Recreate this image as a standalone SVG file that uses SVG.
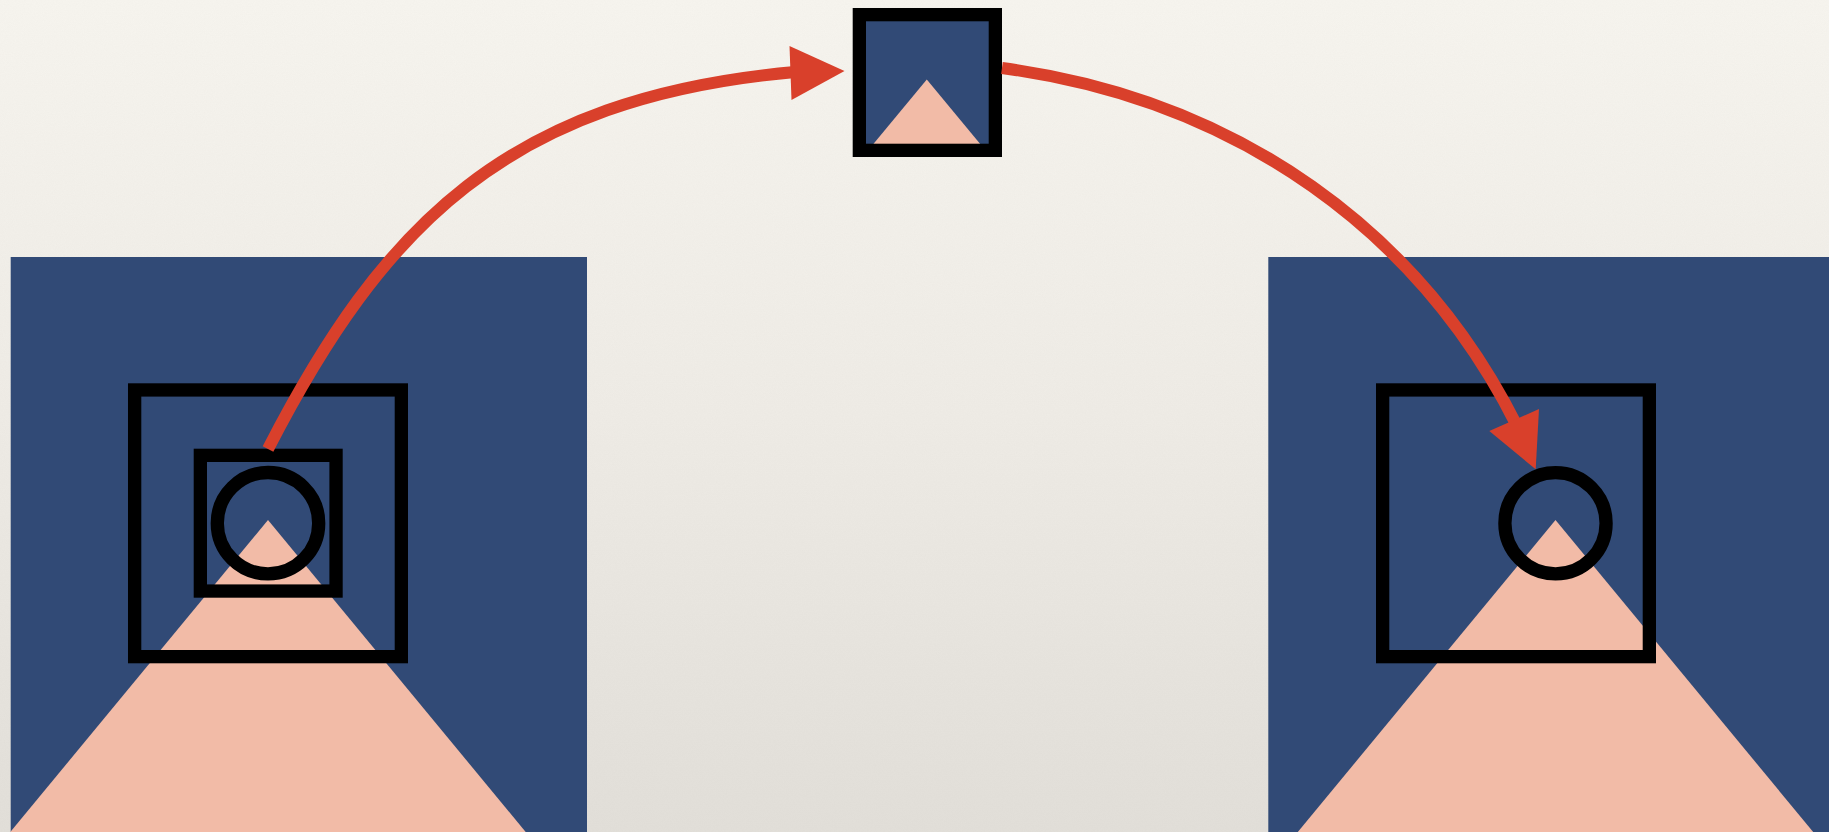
<svg xmlns="http://www.w3.org/2000/svg" width="1829" height="832" viewBox="0 0 1829 832">
  <style>
    .panel { fill: #314a76; }
    .cone { fill: #f2bba7; }
    .frame { fill: none; stroke: #000000; stroke-width: 13.3; }
    .link { fill: none; stroke: #d9402b; stroke-width: 12; stroke-linecap: butt; }
    .head { fill: #d9402b; stroke: none; }
  </style>
  <defs>
    <linearGradient id="paper" x1="0" y1="0" x2="0" y2="1">
      <stop offset="0" stop-color="#f7f5ef"/>
      <stop offset="0.5" stop-color="#efece6"/>
      <stop offset="1" stop-color="#e2dfd9"/>
    </linearGradient>
    <filter id="grain" x="0" y="0" width="100%" height="100%">
      <feTurbulence type="fractalNoise" baseFrequency="0.9" numOctaves="2" seed="3" result="n"/>
      <feColorMatrix in="n" type="matrix" values="0 0 0 0 0.45  0 0 0 0 0.43  0 0 0 0 0.40  0 0 0 0.06 0"/>
    </filter>
    <filter id="soft" x="-10%" y="-10%" width="120%" height="120%">
      <feGaussianBlur stdDeviation="0.7"/>
    </filter>
  </defs>

  <rect x="0" y="0" width="1829" height="832" fill="url(#paper)"/>
  <rect x="0" y="0" width="1829" height="832" filter="url(#grain)"/>

  <g id="left-view">
    <rect class="panel" x="10.7" y="257" width="576.3" height="575"/>
    <polygon class="cone" points="268,520 10.3,832 525.7,832"/>
    <rect class="frame" x="134.65" y="389.95" width="266.7" height="266.7"/>
    <rect class="frame" x="200.35" y="455.35" width="135.7" height="135.7"/>
    <circle class="frame" cx="268" cy="523.2" r="50.7"/>
  </g>

  <g id="crop">
    <rect class="panel" x="859.35" y="14.65" width="136" height="135.7"/>
    <polygon class="cone" points="926.8,79.5 868.4,150 985.2,150" filter="url(#soft)"/>
    <rect class="frame" x="859.35" y="14.65" width="136" height="135.7"/>
  </g>

  <g id="right-view">
    <rect class="panel" x="1268.3" y="257" width="560.7" height="575"/>
    <polygon class="cone" points="1555.5,520 1297.8,832 1813.2,832"/>
    <rect class="frame" x="1382.65" y="389.95" width="266.7" height="266.7"/>
    <circle class="frame" cx="1555.5" cy="523.2" r="50.6"/>
  </g>

  <g id="connectors">
    <path class="link" d="M268,449 C382.5,226.7 506,97.6 795,72"/>
    <polygon class="head" points="789.5,46 791.5,100 844.5,71"/>
    <path class="link" d="M1002,68 C1239.8,99.9 1419.8,233 1516.5,425"/>
    <polygon class="head" points="1489.3,431 1539,409 1535.7,469.3"/>
  </g>
</svg>
